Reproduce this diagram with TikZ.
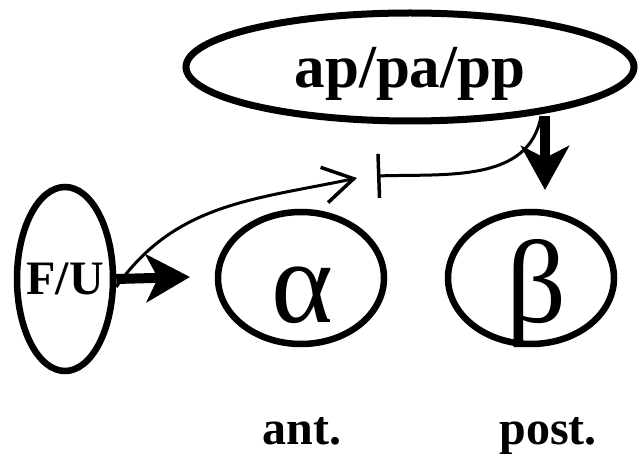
\documentclass[tikz,border=0pt]{standalone}
\usepackage{fontspec}
\setmainfont{Liberation Serif}
\usetikzlibrary{positioning, shapes.geometric, arrows.meta}

\tikzset{
  cell/.style={draw, ellipse, line width=6.5pt, minimum width=166pt, minimum height=132pt, inner sep=0pt},
  greek/.style={anchor=base, inner sep=0pt, font=\fontsize{118}{118}\selectfont},
  side/.style={anchor=base, inner sep=0pt, font=\bfseries\fontsize{48}{48}\selectfont},
  fat/.style={line width=10pt, -{Stealth[length=44pt, width=48pt, inset=12pt]}},
  thin/.style={line width=3pt}
}

\begin{document}
\begin{tikzpicture}[x=1pt, y=-1pt]
\useasboundingbox (0,0) rectangle (642,454);

% Drawing the signal ellipses
\node [draw, ellipse, line width=7pt, minimum width=448pt, minimum height=108pt, inner sep=0pt, text depth=0pt,
       font=\bfseries\fontsize{61}{61}\selectfont] (sig) at (410,67) {ap/pa/pp};
\node [draw, ellipse, line width=6.5pt, minimum width=96pt, minimum height=184pt, inner xsep=-8pt,
       font=\bfseries\fontsize{48}{48}\selectfont] (fu) at (65,279) {F/U};

% Drawing the two cells and their letters
\node [cell] (alpha) at (301,278) {};
\node [cell] (beta) at (531,278) {};
\node [greek] (alphaL) at (302,322) {α};
\node [greek] (betaL) at (537,322) {β};

% Adding the names below the cells
\node [side] (ant) at (302,444) {ant.};
\node [side] (post) at (548,444) {post.};

% Drawing the arrows
\coordinate (tip) at (357,178);
\coordinate (bar) at (377,176);
\coordinate (top) at (545,116);
\coordinate (down) at (545,190);
\coordinate (push) at (190,277);
\draw [fat] (fu.east) -- (push);
\draw [fat] (top) -- (down);
\draw [thin, -{Straight Barb[length=30pt, width=36pt, line width=3.5pt]}] ([yshift=-8]fu.east) to[out=55, in=192] (tip);
\draw [thin, -{Bar[width=44pt, line width=3.5pt]}] ([xshift=-4]top) to[out=-100, in=2] (bar);
\end{tikzpicture}
\end{document}
